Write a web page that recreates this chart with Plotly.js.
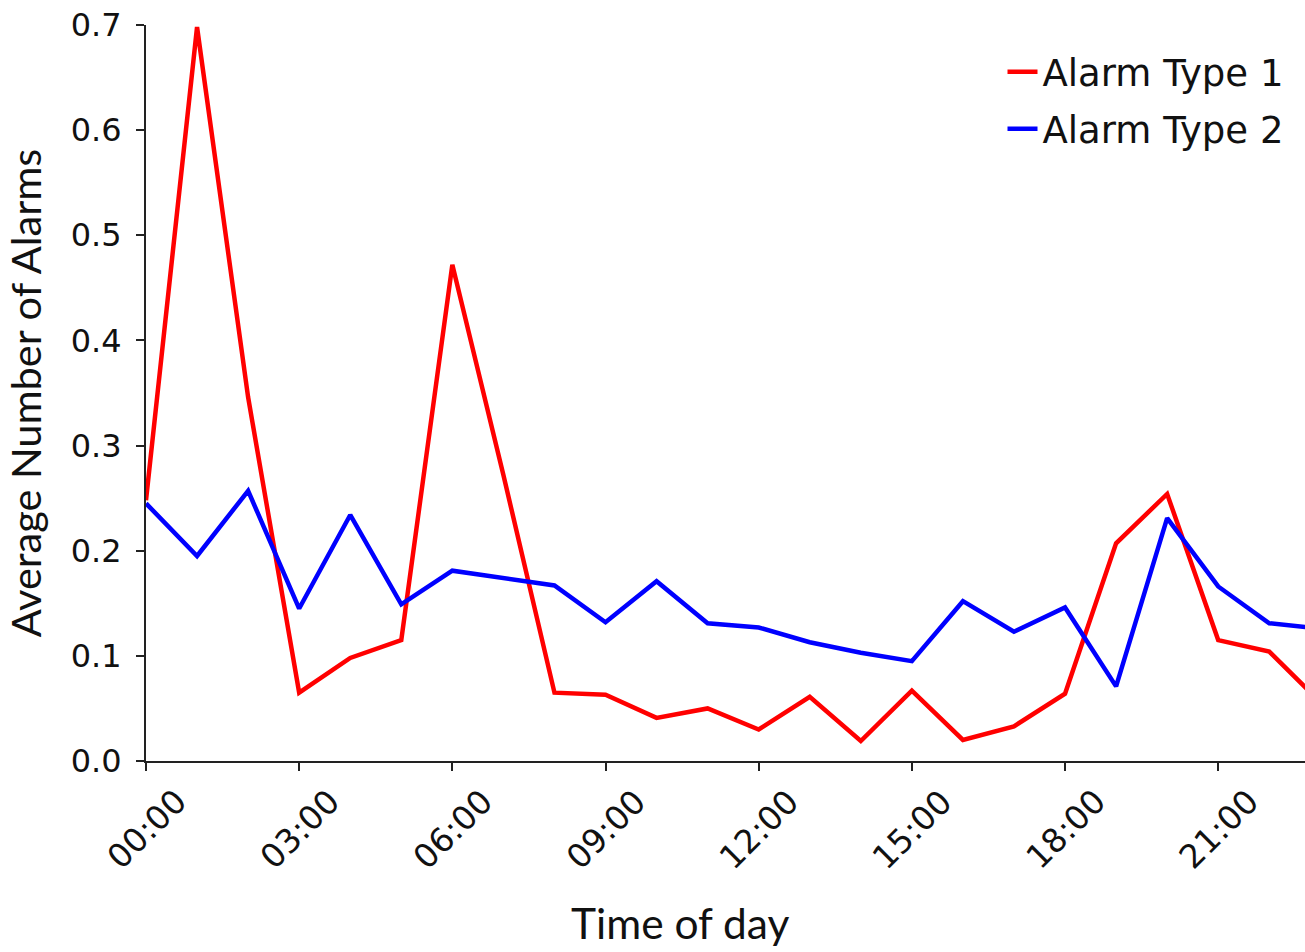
<!DOCTYPE html>
<html>
<head>
<meta charset="utf-8">
<script src="https://cdn.plot.ly/plotly-3.0.1.min.js"></script>
<style>
html,body{margin:0;padding:0;background:#fff;overflow:hidden;}
#chart{width:1305px;height:952px;}
</style>
</head>
<body>
<div id="chart"></div>
<script>
const hours = [0,1,2,3,4,5,6,7,8,9,10,11,12,13,14,15,16,17,18,19,20,21,22,23];
const alarmType1 = [0.248,0.698,0.346,0.065,0.098,0.115,0.472,0.272,0.065,0.063,0.041,0.050,0.030,0.061,0.019,0.067,0.020,0.033,0.064,0.207,0.254,0.115,0.104,0.056];
const alarmType2 = [0.245,0.195,0.257,0.145,0.234,0.149,0.181,0.174,0.167,0.132,0.171,0.131,0.127,0.113,0.103,0.095,0.152,0.123,0.146,0.071,0.231,0.166,0.131,0.126];
const tickHours = [0,3,6,9,12,15,18,21];
const tickLabels = ['00:00','03:00','06:00','09:00','12:00','15:00','18:00','21:00'];
const seriesNames = ['Alarm Type 1','Alarm Type 2'];

const traces = [
  {x: hours, y: alarmType1, type:'scatter', mode:'lines', name: seriesNames[0], legendgroup:'a',
   line:{color:'#ff0000', width:4.5}},
  {x: hours, y: alarmType2, type:'scatter', mode:'lines', name: seriesNames[1], legendgroup:'b',
   line:{color:'#0000ff', width:4.5}}
];

const tickAnnotations = tickHours.map((h,i)=>({
  x: h, xref:'x', y: 0, yref:'paper', yshift: -68,
  text: tickLabels[i], showarrow:false, textangle:-45,
  xanchor:'center', yanchor:'middle',
  font:{family:'DejaVu Sans', size:33, color:'#111'}
}));

const layout = {
  width:1305, height:952,
  margin:{l:146, r:0, t:25, b:191},
  paper_bgcolor:'#fff', plot_bgcolor:'#fff',
  showlegend:true,
  legend:{x:0.739, xanchor:'left', y:0.978, yanchor:'top', bgcolor:'rgba(255,255,255,0)',
          font:{family:'DejaVu Sans', size:37, color:'#111'}, tracegroupgap:6},
  xaxis:{range:[0,22.7], tickvals:tickHours, showticklabels:false, ticks:'outside', ticklen:8, tickwidth:2,
         tickcolor:'#222', showline:true, linecolor:'#222', linewidth:2, showgrid:false, zeroline:false, fixedrange:true},
  yaxis:{range:[0,0.7], tickvals:[0,0.1,0.2,0.3,0.4,0.5,0.6,0.7], tickformat:'.1f', ticks:'outside', ticklen:8, tickwidth:2,
         tickcolor:'#222', showline:true, linecolor:'#222', linewidth:2, showgrid:false, zeroline:false,
         ticklabelstandoff:8,
         tickfont:{family:'DejaVu Sans', size:32, color:'#111'},
         title:{text:'Average Number of Alarms', font:{family:'Lato', size:41.5, color:'#111'}, standoff:22}},
  annotations: tickAnnotations.concat([
    {x:0.461, xref:'paper', y:0, yref:'paper', yshift:-161, text:'Time of day', showarrow:false,
     xanchor:'center', yanchor:'middle', font:{family:'Lato', size:42.5, color:'#111'}}
  ])
};

Plotly.newPlot('chart', traces, layout, {displayModeBar:false, staticPlot:true});
</script>
</body>
</html>
